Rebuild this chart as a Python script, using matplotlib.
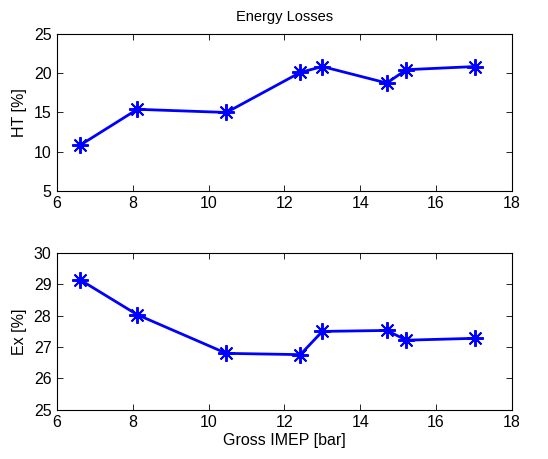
import matplotlib
matplotlib.use("Agg")
import matplotlib.pyplot as plt

imep = [6.6, 8.12, 10.47, 12.42, 13.0, 14.7, 15.22, 17.03]
ht = [10.8, 15.4, 15.0, 20.1, 20.85, 18.75, 20.45, 20.85]
ex = [29.15, 28.03, 26.8, 26.76, 27.5, 27.53, 27.22, 27.28]

plt.rcParams['font.family'] = ['Liberation Sans', 'DejaVu Sans']

fig = plt.figure(figsize=(5.48, 4.59), dpi=100)
ax1 = fig.add_axes([0.104, 0.584, 0.830, 0.342])
ax2 = fig.add_axes([0.104, 0.107, 0.830, 0.342])

for ax, y, lab, yl, yt in [(ax1, ht, 'HT [%]', (5, 25), [5, 10, 15, 20, 25]),
                           (ax2, ex, 'Ex [%]', (25, 30), [25, 26, 27, 28, 29, 30])]:
    ax.plot(imep, y, color='#0000ff', lw=2, marker=(8, 2, 0), ms=12, mew=1.4)
    ax.set_xlim(6, 18)
    ax.set_xticks([6, 8, 10, 12, 14, 16, 18])
    ax.set_ylim(*yl)
    ax.set_yticks(yt)
    ax.set_ylabel(lab, fontsize=11.5, labelpad=5)
    ax.tick_params(direction='in', top=True, right=True, labelsize=11.5, length=4, width=0.6, pad=4)
    for s in ax.spines.values():
        s.set_linewidth(0.8)

ax1.set_title('Energy Losses', fontsize=10.5, pad=9)
ax2.set_xlabel('Gross IMEP [bar]', fontsize=11.5, labelpad=2)

fig.savefig('out.png', dpi=100)
